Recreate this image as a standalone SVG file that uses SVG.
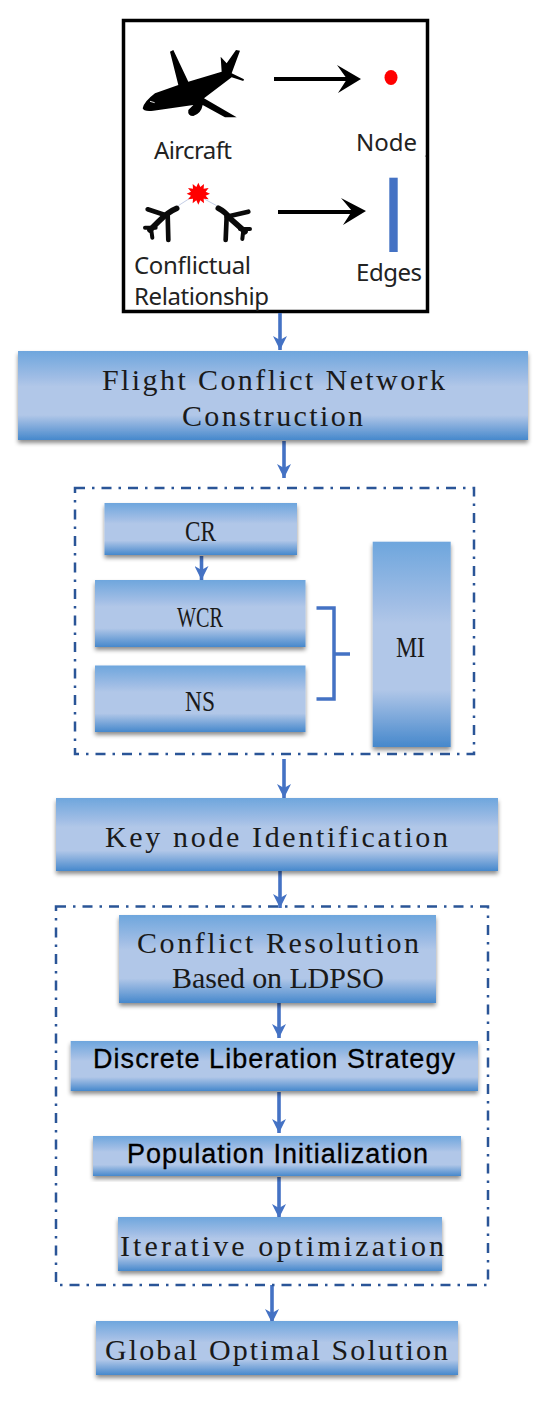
<svg xmlns="http://www.w3.org/2000/svg" width="550" height="1404" viewBox="0 0 550 1404">
<style>
.n{fill:url(#g);filter:url(#s)}
.m{font-family:"Liberation Serif",serif;font-size:30px;fill:#1a1a1a;text-anchor:start}
.a{font-family:"Liberation Sans",Arial,sans-serif;fill:#000;stroke:#000;stroke-width:.3px}
.l{font-family:"Noto Sans",sans-serif;font-size:24px;fill:#222}
.d{fill:none;stroke:#2a5597;stroke-width:2.5;stroke-dasharray:10 7 2.5 7}
.c{fill:none;stroke:#4472c4;stroke-width:3.6;marker-end:url(#h)}
.k{fill:none;stroke:#000;stroke-width:4}
.f{fill:#000}
</style>
<defs>
<linearGradient id="g" x1="0" y1="0" x2="0" y2="1">
<stop offset="0" stop-color="#6ea6dd"/><stop offset=".3" stop-color="#a0bde5"/><stop offset=".4" stop-color="#b1c7e8"/><stop offset=".72" stop-color="#b1c7e8"/><stop offset="1" stop-color="#4688cc"/>
</linearGradient>
<filter id="s" x="-5%" y="-10%" width="110%" height="125%"><feDropShadow dx="0" dy="3" stdDeviation="2" flood-color="#000" flood-opacity=".45"/></filter>
<marker id="h" markerUnits="userSpaceOnUse" markerWidth="16" markerHeight="14" refX="14" refY="7" orient="auto"><path d="M0 0L14 7L0 14L4 7Z" fill="#4472c4"/></marker>
</defs>
<rect width="550" height="1404" fill="#fff"/>
<g id="legend">
<rect x="123.500" y="20.500" width="304" height="291" fill="#fff" stroke="#000" stroke-width="3.500"/>
<g transform="translate(130 40) scale(.3333)">
<path d="M38 205Q42 185 75 160L145 135L120 35L130 30L175 125L275 95L272 50L290 70L318 30L330 32L305 100L342 118L340 123L305 112L222 175L320 232H285L218 195Q214 220 190 228Q172 228 175 210L190 195L70 212Q40 215 38 205Z" fill="#000"/>
<path d="M60 184l14 4" stroke="#ddd" stroke-width="3"/>
</g>
<g transform="translate(135 175) scale(.3333)">
<g fill="none" stroke="#0a0a0a" stroke-linecap="round">
<path d="M125 100Q100 110 70 140L45 165" stroke-width="17"/><path d="M38 103L90 120" stroke-width="14"/><path d="M98 118L100 195" stroke-width="14"/><path d="M30 158H62M48 160L52 188" stroke-width="12"/>
<path d="M250 100Q270 110 285 130L330 170" stroke-width="17"/><path d="M340 110L275 125" stroke-width="14"/><path d="M275 125L272 195" stroke-width="14"/><path d="M345 162H315M325 165L322 192" stroke-width="12"/>
</g>
<path d="M130 92L172 65M245 92L208 72" stroke="#b8c4e0" stroke-width="2.500"/>
<path d="M190 23l6 13 11-9-1 14 15-2-9 11 13 6-13 6 9 11-15-2 1 14-11-9-6 13-6-13-11 9 1-14-15 2 9-11-13-6 13-6-9-11 15 2-1-14 11 9Z" fill="#f00"/>
</g>
<path d="M274 79H352" class="k"/><path class="f" d="M337 65L361 79L338 93L347 79Z"/>
<ellipse cx="391" cy="77.500" rx="6.500" ry="7.500" fill="#f00"/>
<path d="M278 212H358" class="k"/><path class="f" d="M341 198L366 211L343 225L352 211Z"/>
<rect x="389.300" y="177.700" width="8.400" height="74.300" fill="#4472c4"/>
<circle cx="425.500" cy="156" r=".6" fill="#555"/>
<text class="l" x="154" y="159" textLength="78">Aircraft</text>
<text class="l" x="356" y="151" textLength="61">Node</text>
<text class="l" x="134" y="274" textLength="117">Conflictual</text>
<text class="l" x="134" y="305" textLength="135">Relationship</text>
<text class="l" x="356" y="281" textLength="66">Edges</text>
</g>
<g id="connectors">
<path class="c" d="M280 313V350"/><path class="c" d="M284 441V478"/><path class="c" d="M201.500 556V580"/><path class="c" d="M284 759V798"/><path class="c" d="M280 871V908"/><path class="c" d="M279 998V1038"/><path class="c" d="M279 1092V1133"/><path class="c" d="M279 1177V1218"/><path class="c" d="M272 1285V1323"/>
<path d="M316.500 608H334V699H316.500M334 654H350" fill="none" stroke="#4472c4" stroke-width="3.500"/>
</g>
<rect id="group-metrics" class="d" x="75" y="488" width="399" height="266"/>
<rect id="group-resolution" class="d" x="56" y="906.500" width="432" height="378.500"/>
<g id="flight"><rect class="n" x="18" y="351" width="510" height="89"/><text class="m" x="102" y="390" textLength="343">Flight Conflict Network</text><text class="m" x="182" y="426" textLength="181">Construction</text></g>
<g id="cr"><rect class="n" x="104.500" y="503" width="192.500" height="52"/><text class="m" x="185" y="541" textLength="31" lengthAdjust="spacingAndGlyphs">CR</text></g>
<g id="wcr"><rect class="n" x="95" y="580" width="210.500" height="67"/><text class="m" x="177" y="627" textLength="46" lengthAdjust="spacingAndGlyphs">WCR</text></g>
<g id="ns"><rect class="n" x="95" y="665.500" width="210.500" height="66.500"/><text class="m" x="185" y="711" textLength="30" lengthAdjust="spacingAndGlyphs">NS</text></g>
<g id="mi"><rect class="n" x="372.700" y="541.700" width="78" height="205.300"/><text class="m" x="396" y="657" textLength="29" lengthAdjust="spacingAndGlyphs">MI</text></g>
<g id="key"><rect class="n" x="56" y="798" width="442" height="73"/><text class="m" x="105" y="847" textLength="343">Key node Identification</text></g>
<g id="ldpso"><rect class="n" x="119" y="915" width="317" height="88"/><text class="m" x="137" y="953" textLength="282">Conflict Resolution</text><text class="m" x="172" y="988" textLength="212">Based on LDPSO</text></g>
<g id="discrete"><rect class="n" x="70.700" y="1041" width="407.300" height="50"/><text class="a" x="93" y="1068" font-size="27" textLength="362">Discrete Liberation Strategy</text></g>
<g id="population"><rect class="n" x="93" y="1136" width="368" height="40"/><text class="a" x="127" y="1163" font-size="27" textLength="301">Population Initialization</text></g>
<g id="iterative"><rect class="n" x="118" y="1217" width="324" height="54"/><text class="m" x="120" y="1256" textLength="324">Iterative optimization</text></g>
<g id="global"><rect class="n" x="96" y="1321" width="362" height="54"/><text class="m" x="105" y="1360" textLength="343">Global Optimal Solution</text></g>
</svg>
